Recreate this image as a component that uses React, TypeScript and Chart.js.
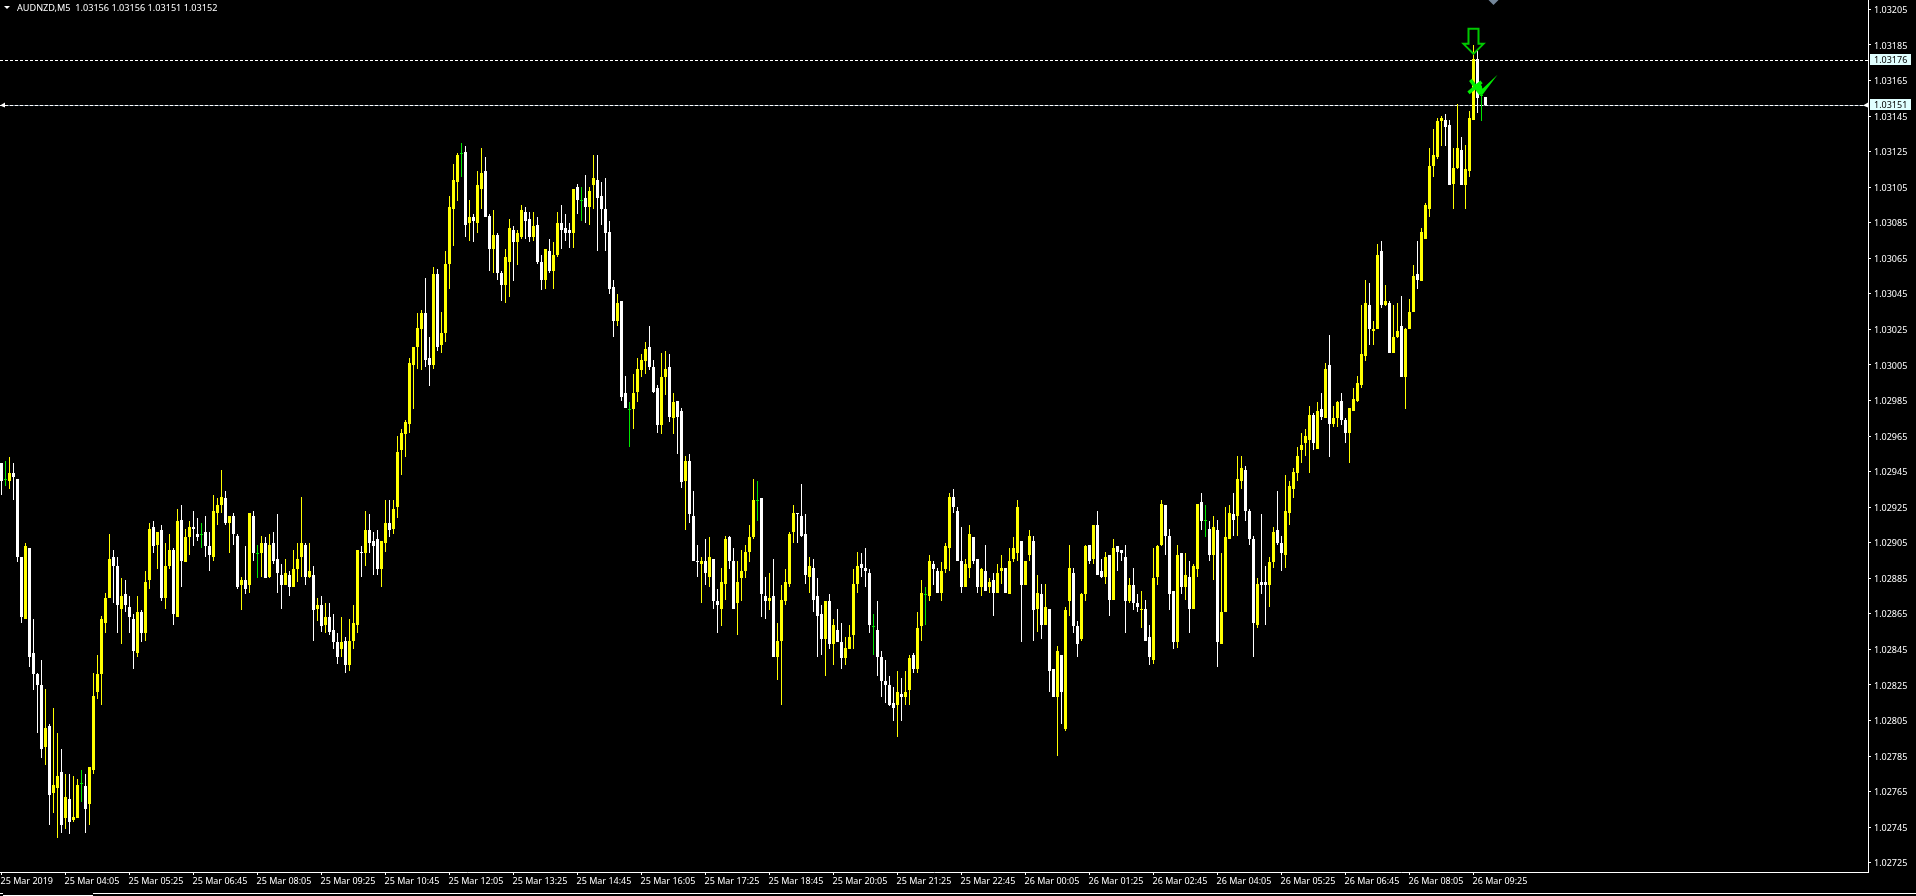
import { useEffect, useRef } from "react";
import { Chart, registerables } from "chart.js";

Chart.register(...registerables);

// AUDNZD M5 bars. Prices in points (102950 = 1.02950).
// Direction of each bar: u = up (yellow), d = down (white), f = flat (doji, green)
const barDirections = [
  "dfuddduddd", "duduududuu", "fduuuuuudd", "uddduduudu", "duududuudd", "fdduuududd", "ududfududd", "duduuududu",
  "duddduduuu", "duddduuduu", "uuuuuuddud", "uuuuufdudu", "uddudduudu", "uddudduduu", "dddudfduud", "dddduddfuu",
  "uuddduudud", "dudddududd", "uudduuuuuf", "dduduuuuud", "ddudddudud", "duuuudddfd", "dddduduudu", "ufudduuudd",
  "duuddududu", "uduuuduudu", "dudduduudd", "uududdudud", "dduddudduu", "udddududuu", "dfduduuudu", "udddudduud",
  "duuuuuuudu", "duduudduuu", "uuduududuu", "duuuduuuuu", "udduuduuud", "fd",
].join("");

const bodyTops = [
  102950,102941,102944,102944,102941,102897,102903,102902,102843,102831,
  102825,102801,102802,102769,102774,102776,102762,102761,102751,102769,
  102770,102768,102779,102819,102831,102862,102874,102896,102897,102892,
  102875,102876,102869,102862,102866,102866,102883,102913,102914,102911,
  102912,102892,102901,102901,102917,102918,102908,102914,102914,102910,
  102910,102911,102903,102923,102926,102931,102930,102920,102920,102909,
  102884,102884,102922,102920,102899,102905,102905,102904,102905,102896,
  102887,102888,102887,102890,102896,102905,102904,102889,102887,102870,
  102870,102863,102863,102856,102849,102849,102850,102850,102860,102901,
  102900,102912,102912,102906,102907,102906,102916,102916,102924,102956,
  102967,102973,103006,103015,103026,103034,103034,103009,103056,103056,
  103023,103062,103094,103109,103123,103124,103125,103088,103088,103106,
  103113,103114,103089,103078,103078,103057,103066,103082,103081,103079,
  103092,103091,103087,103083,103084,103063,103070,103069,103067,103085,
  103085,103082,103081,103104,103105,103098,103099,103103,103110,103109,
  103100,103093,103080,103049,103040,103041,102989,102980,102989,103003,
  103008,103014,103015,103004,102992,102998,103003,103004,102984,102985,
  102979,102951,102951,102920,102895,102895,102895,102897,102896,102872,
  102883,102907,102908,102895,102883,102889,102900,102908,102929,102929,
  102930,102875,102874,102875,102850,102873,102883,102910,102922,102922,
  102920,102910,102892,102891,102875,102865,102872,102872,102859,102856,
  102849,102846,102852,102882,102892,102893,102891,102888,102858,102856,
  102841,102827,102825,102815,102821,102820,102821,102840,102842,102857,
  102877,102876,102895,102893,102889,102889,102903,102931,102931,102923,
  102895,102893,102910,102908,102896,102890,102889,102883,102884,102888,
  102891,102891,102895,102902,102925,102906,102895,102909,102906,102877,
  102876,102869,102868,102834,102844,102842,102867,102891,102888,102858,
  102876,102903,102904,102915,102915,102889,102897,102898,102902,102903,
  102901,102897,102881,102881,102871,102868,102868,102852,102885,102903,
  102927,102926,102909,102878,102898,102899,102887,102886,102892,102927,
  102928,102918,102913,102914,102912,102866,102908,102922,102921,102941,
  102947,102946,102923,102907,102882,102883,102883,102894,102911,102912,
  102905,102923,102937,102945,102954,102960,102965,102977,102977,102979,
  102980,103003,103005,102975,102984,102985,102974,102981,102986,102995,
  103011,103040,103039,103025,103067,103069,103041,103040,103021,103024,
  103027,103025,103035,103055,103056,103080,103095,103117,103123,103142,
  103144,103143,103140,103116,103127,103126,103115,103144,103177,103177,
  103157,103156,
];

const bodyBottoms = [
  102940,102941,102940,102942,102897,102863,102862,102841,102831,102825,
  102789,102790,102763,102764,102767,102746,102750,102748,102749,102750,
  102770,102755,102758,102777,102821,102831,102860,102874,102892,102870,
  102868,102870,102863,102844,102843,102854,102854,102884,102903,102904,
  102874,102874,102892,102865,102863,102895,102894,102908,102913,102908,
  102910,102903,102898,102897,102922,102926,102916,102916,102910,102880,
  102881,102879,102881,102899,102899,102899,102885,102886,102895,102888,
  102881,102881,102880,102880,102890,102897,102886,102886,102867,102868,
  102858,102859,102855,102849,102841,102845,102836,102836,102850,102859,
  102899,102899,102905,102903,102890,102890,102905,102912,102913,102925,
  102957,102966,102972,103005,103015,103025,103008,103005,103005,103015,
  103016,103023,103062,103093,103108,103124,103084,103085,103086,103085,
  103104,103088,103070,103070,103057,103050,103050,103063,103074,103074,
  103077,103086,103077,103077,103063,103053,103053,103058,103058,103067,
  103081,103079,103079,103079,103098,103098,103094,103094,103106,103099,
  103093,103079,103048,103030,103030,102987,102981,102980,102980,102990,
  103002,103007,103004,102990,102971,102971,102998,102976,102975,102976,
  102939,102940,102921,102895,102894,102893,102888,102886,102872,102870,
  102868,102882,102895,102868,102871,102885,102889,102900,102908,102929,
  102876,102872,102872,102841,102841,102850,102872,102882,102911,102921,
  102909,102887,102886,102873,102864,102851,102851,102848,102848,102849,
  102840,102840,102845,102853,102882,102891,102889,102859,102858,102841,
  102827,102825,102814,102812,102814,102818,102818,102822,102834,102834,
  102858,102876,102875,102890,102877,102877,102890,102902,102925,102895,
  102880,102880,102891,102895,102880,102880,102878,102880,102877,102877,
  102889,102877,102876,102896,102899,102881,102881,102898,102867,102868,
  102859,102859,102833,102818,102818,102821,102800,102872,102858,102848,
  102851,102876,102895,102896,102887,102886,102886,102873,102873,102900,
  102899,102872,102872,102871,102869,102867,102850,102841,102839,102886,
  102904,102909,102876,102849,102849,102880,102880,102868,102868,102890,
  102917,102918,102898,102898,102849,102848,102866,102907,102918,102920,
  102940,102923,102907,102860,102859,102881,102881,102881,102894,102905,
  102899,102898,102922,102935,102944,102957,102961,102963,102961,102958,
  102976,102975,102972,102972,102975,102974,102967,102967,102979,102985,
  102994,103010,103025,103024,103025,103039,103039,103012,103012,103021,
  102998,102998,103025,103035,103053,103052,103076,103093,103117,103122,
  103142,103139,103106,103107,103116,103106,103106,103114,103143,103155,
  103157,103151,
];

const highs = [
  102950,102951,102953,102950,102941,102897,102905,102902,102862,102832,
  102839,102823,102803,102812,102798,102789,102775,102775,102774,102772,
  102777,102775,102779,102832,102842,102864,102877,102910,102901,102897,
  102885,102884,102875,102865,102875,102867,102889,102916,102917,102911,
  102915,102905,102910,102902,102924,102926,102913,102917,102923,102919,
  102916,102920,102911,102932,102930,102946,102934,102920,102922,102910,
  102886,102903,102922,102923,102904,102909,102908,102910,102911,102921,
  102893,102896,102889,102901,102905,102931,102905,102905,102892,102874,
  102875,102871,102871,102865,102854,102863,102852,102862,102870,102901,
  102903,102923,102921,102911,102912,102906,102929,102929,102929,102965,
  102969,102974,103009,103015,103034,103036,103054,103021,103060,103059,
  103035,103069,103100,103118,103124,103130,103128,103098,103090,103114,
  103127,103122,103090,103092,103079,103058,103070,103087,103083,103081,
  103095,103094,103091,103091,103088,103067,103070,103076,103074,103091,
  103095,103090,103085,103104,103107,103105,103112,103105,103123,103123,
  103108,103110,103086,103053,103045,103041,102999,102984,103000,103009,
  103011,103018,103027,103008,102994,103012,103013,103011,102989,102985,
  102981,102954,102955,102934,102904,102897,102907,102908,102896,102879,
  102891,102909,102909,102902,102895,102901,102904,102915,102941,102940,
  102930,102886,102888,102896,102860,102881,102890,102911,102926,102922,
  102938,102921,102897,102896,102885,102870,102872,102876,102862,102868,
  102860,102852,102859,102890,102900,102899,102902,102890,102865,102872,
  102844,102839,102830,102824,102833,102829,102833,102842,102843,102866,
  102884,102880,102898,102895,102891,102894,102905,102933,102935,102925,
  102914,102896,102915,102908,102896,102891,102904,102885,102888,102893,
  102898,102891,102902,102908,102929,102906,102895,102912,102909,102887,
  102882,102882,102868,102834,102847,102842,102869,102904,102891,102861,
  102877,102904,102904,102915,102923,102896,102900,102898,102907,102903,
  102901,102904,102885,102891,102876,102878,102873,102859,102902,102904,
  102929,102926,102913,102878,102904,102899,102899,102895,102893,102927,
  102933,102926,102917,102920,102918,102899,102925,102926,102933,102954,
  102954,102948,102924,102909,102885,102921,102892,102897,102914,102934,
  102909,102943,102940,102947,102959,102967,102969,102982,102978,102984,
  102989,103006,103022,102982,102985,102989,102975,102981,102992,102999,
  103039,103053,103051,103030,103073,103075,103050,103041,103039,103040,
  103044,103026,103042,103061,103075,103082,103096,103127,103138,103144,
  103145,103146,103143,103127,103152,103133,103129,103148,103185,103182,
  103162,103156,
];

const lows = [
  102932,102937,102935,102929,102894,102860,102862,102835,102822,102798,
  102784,102780,102746,102753,102739,102742,102744,102741,102748,102750,
  102759,102742,102746,102775,102817,102814,102854,102874,102871,102854,
  102848,102866,102854,102834,102841,102849,102850,102879,102899,102890,
  102872,102868,102890,102859,102863,102880,102894,102898,102903,102906,
  102902,102897,102889,102895,102915,102922,102915,102899,102904,102879,
  102867,102876,102877,102895,102885,102886,102885,102885,102893,102877,
  102868,102881,102875,102880,102883,102886,102881,102885,102850,102861,
  102855,102854,102853,102845,102837,102841,102832,102833,102845,102854,
  102886,102892,102899,102887,102887,102880,102900,102908,102910,102919,
  102943,102953,102967,102980,103003,103002,103004,102993,103003,103013,
  103012,103018,103048,103072,103097,103111,103077,103075,103074,103079,
  103093,103088,103058,103057,103053,103041,103040,103043,103052,103061,
  103076,103076,103074,103075,103062,103047,103048,103057,103048,103066,
  103070,103075,103071,103071,103090,103086,103085,103084,103093,103069,
  103084,103069,103045,103021,103027,102985,102981,102959,102969,102984,
  102998,103000,103002,102989,102967,102966,102988,102973,102966,102955,
  102936,102912,102916,102895,102886,102871,102881,102880,102868,102854,
  102858,102873,102890,102868,102853,102872,102885,102894,102907,102917,
  102863,102862,102867,102841,102828,102814,102870,102880,102905,102905,
  102908,102882,102877,102866,102841,102842,102830,102845,102836,102849,
  102834,102836,102845,102845,102877,102886,102880,102854,102842,102830,
  102818,102815,102813,102805,102796,102805,102814,102814,102832,102832,
  102850,102859,102872,102881,102877,102872,102888,102889,102922,102895,
  102877,102880,102885,102893,102877,102875,102878,102877,102864,102877,
  102882,102877,102876,102894,102895,102849,102881,102895,102850,102855,
  102851,102859,102821,102818,102785,102803,102799,102864,102854,102841,
  102850,102872,102893,102893,102887,102885,102882,102864,102873,102889,
  102895,102854,102871,102867,102866,102857,102850,102836,102837,102881,
  102903,102898,102867,102845,102846,102876,102873,102854,102868,102886,
  102912,102908,102895,102884,102835,102848,102866,102907,102909,102909,
  102935,102917,102904,102841,102857,102876,102859,102869,102891,102904,
  102889,102891,102915,102930,102940,102950,102954,102944,102957,102958,
  102974,102975,102953,102970,102970,102971,102961,102950,102979,102984,
  102992,103007,103016,103016,103025,103037,103038,103012,103012,103020,
  102998,102980,103025,103035,103048,103052,103076,103088,103111,103121,
  103128,103128,103106,103093,103115,103106,103093,103111,103143,103147,
  103142,103151,
];

const timeTickLabels = [
  "25 Mar 2019", "25 Mar 04:05", "25 Mar 05:25", "25 Mar 06:45", "25 Mar 08:05", "25 Mar 09:25",
  "25 Mar 10:45", "25 Mar 12:05", "25 Mar 13:25", "25 Mar 14:45", "25 Mar 16:05", "25 Mar 17:25",
  "25 Mar 18:45", "25 Mar 20:05", "25 Mar 21:25", "25 Mar 22:45", "26 Mar 00:05", "26 Mar 01:25",
  "26 Mar 02:45", "26 Mar 04:05", "26 Mar 05:25", "26 Mar 06:45", "26 Mar 08:05", "26 Mar 09:25",
];
const barsPerTimeTick = 16;

const priceTicks = [
  103205, 103185, 103165, 103145, 103125, 103105, 103085, 103065, 103045, 103025, 103005, 102985, 102965,
  102945, 102925, 102905, 102885, 102865, 102845, 102825, 102805, 102785, 102765, 102745, 102725,
];

const stopPrice = 103176;
const bidPrice = 103151;
const titleText = "AUDNZD,M5  1.03156 1.03156 1.03151 1.03152";

const UP = "#ffff00";
const DOWN = "#ffffff";
const FLAT = "#00e600";
const FONT = "Noto Sans";

const toPrice = (points: number) => points / 100000;
const barColor = (i: number) => (barDirections[i] === "u" ? UP : barDirections[i] === "d" ? DOWN : FLAT);

const snapBars = {
  id: "snapBars",
  beforeDatasetsDraw(chart: any) {
    chart.getSortedVisibleDatasetMetas().forEach((meta: any) => {
      if (meta.type !== "bar") return;
      meta.data.forEach((el: any) => {
        el.y = Math.round(el.y);
        el.base = Math.round(el.base);
        if (el.y === el.base) el.base = el.y + 1;
      });
    });
    const { ctx, scales, chartArea } = chart;
    ctx.save();
    ctx.lineWidth = 1;
    const hline = (points: number, color: string, dash: number[]) => {
      const y = Math.floor(scales.y.getPixelForValue(toPrice(points))) + 0.5;
      ctx.strokeStyle = color;
      ctx.setLineDash(dash);
      ctx.beginPath();
      ctx.moveTo(chartArea.left, y);
      ctx.lineTo(chartArea.right, y);
      ctx.stroke();
    };
    hline(bidPrice, "#708090", []);
    hline(bidPrice, "#ffffff", [3, 2]);
    hline(stopPrice, "#ffffff", [3, 2]);
    ctx.restore();
  },
};

const overlay = {
  id: "overlay",
  afterDraw(chart: any) {
    const { ctx, scales } = chart;
    const X = (i: number) => scales.x.getPixelForValue(i);
    const Y = (p: number) => scales.y.getPixelForValue(toPrice(p));
    ctx.save();
    // title
    ctx.fillStyle = "#ffffff";
    ctx.beginPath();
    ctx.moveTo(4, 6);
    ctx.lineTo(10, 6);
    ctx.lineTo(7, 9);
    ctx.closePath();
    ctx.fill();
    ctx.font = `9.15px "${FONT}"`;
    ctx.textBaseline = "middle";
    ctx.textAlign = "left";
    ctx.fillText(titleText, 17, 8);
    // top grey marker
    ctx.fillStyle = "#74879a";
    ctx.beginPath();
    ctx.moveTo(1488.5, 0);
    ctx.lineTo(1498.5, 0);
    ctx.lineTo(1493.5, 5);
    ctx.closePath();
    ctx.fill();
    // price labels
    ctx.font = `9px "${FONT}"`;
    [stopPrice, bidPrice].forEach((p) => {
      const y = Math.floor(Y(p));
      ctx.fillStyle = "#e0ffff";
      ctx.fillRect(1870, y - 6, 41, 11);
      ctx.fillStyle = "#000000";
      ctx.fillText(toPrice(p).toFixed(5), 1874, y);
    });
    // bid arrows
    const by = Math.floor(Y(bidPrice)) + 0.5;
    ctx.fillStyle = "#ffffff";
    [[1863, 1868], [0, 5]].forEach(([a, b]) => {
      ctx.beginPath();
      ctx.moveTo(a, by);
      ctx.lineTo(b, by - 3);
      ctx.lineTo(b, by + 2);
      ctx.closePath();
      ctx.fill();
    });
    // down arrow on the signal bar
    const ax = X(368);
    const ay = Y(103180);
    ctx.strokeStyle = "#00c800";
    ctx.lineWidth = 2;
    ctx.lineJoin = "miter";
    ctx.beginPath();
    ctx.moveTo(ax, ay);
    ctx.lineTo(ax + 10, ay - 10);
    ctx.lineTo(ax + 5, ay - 10);
    ctx.lineTo(ax + 5, ay - 25);
    ctx.lineTo(ax - 5, ay - 25);
    ctx.lineTo(ax - 5, ay - 10);
    ctx.lineTo(ax - 10, ay - 10);
    ctx.closePath();
    ctx.stroke();
    // cross and check marks on the entry bar
    const cx = X(369);
    const cy = Y(103162);
    ctx.strokeStyle = "#00f000";
    ctx.fillStyle = "#00f000";
    ctx.lineWidth = 3.5;
    ctx.beginPath();
    ctx.moveTo(cx - 7, cy - 6);
    ctx.lineTo(cx + 3, cy + 8);
    ctx.moveTo(cx - 9, cy + 7);
    ctx.lineTo(cx + 4, cy - 4);
    ctx.stroke();
    ctx.beginPath();
    ctx.moveTo(cx - 1, cy - 2);
    ctx.lineTo(cx + 3, cy - 3);
    ctx.lineTo(cx + 5, cy + 3);
    ctx.lineTo(cx + 20, cy - 11);
    ctx.lineTo(cx + 5, cy + 9);
    ctx.lineTo(cx + 2, cy + 9);
    ctx.closePath();
    ctx.fill();
    // terminal tab strip
    ctx.fillStyle = "#ffffff";
    ctx.fillRect(93, 893, 1823, 1);
    ctx.fillRect(0, 893, 3, 1);
    ctx.fillRect(3, 895, 90, 1);
    ctx.restore();
  },
};

export default function App() {
  const ref = useRef<HTMLCanvasElement>(null);
  useEffect(() => {
    const n = barDirections.length;
    const idx = Array.from({ length: n }, (_, i) => i);
    const colors = idx.map(barColor);
    const timeTicks = timeTickLabels.map((_, i) => i * barsPerTimeTick);
    const chart = new Chart(ref.current as HTMLCanvasElement, {
      type: "bar",
      data: {
        datasets: [
          {
            label: "body",
            data: idx.map((i) => ({ x: i, y: [toPrice(bodyBottoms[i]), toPrice(bodyTops[i])] })),
            backgroundColor: colors,
            barThickness: 3,
            grouped: false,
            borderWidth: 0,
            inflateAmount: 0,
            order: 1,
          } as any,
          {
            label: "wick",
            data: idx.map((i) => ({ x: i, y: [toPrice(lows[i]), toPrice(highs[i])] })),
            backgroundColor: colors,
            barThickness: 1,
            grouped: false,
            borderWidth: 0,
            inflateAmount: 0,
            order: 2,
          } as any,
        ],
      },
      options: {
        responsive: false,
        animation: false,
        events: [],
        layout: { padding: 0 },
        plugins: { legend: { display: false }, tooltip: { enabled: false } },
        scales: {
          x: {
            type: "linear",
            min: -0.375,
            max: 466.625,
            offset: false,
            grid: { display: true, offset: false, drawOnChartArea: false, drawTicks: true, tickLength: 3, tickColor: "#ffffff" },
            border: { display: true, color: "#ffffff", width: 1 },
            afterBuildTicks: (s: any) => {
              s.ticks = timeTicks.map((value) => ({ value }));
            },
            afterFit: (s: any) => {
              s.height = 24;
              s.paddingLeft = 0;
              s.paddingRight = 0;
            },
            ticks: {
              autoSkip: false,
              maxRotation: 0,
              minRotation: 0,
              align: "start",
              labelOffset: -1,
              padding: 1,
              color: "#ffffff",
              font: { family: FONT, size: 9 },
              callback: (v: any) => timeTickLabels[Math.round(v / barsPerTimeTick)],
            },
          },
          y: {
            position: "right",
            min: 1.027198,
            max: 1.032103,
            grid: { display: true, drawOnChartArea: false, drawTicks: true, tickLength: 3, tickColor: "#ffffff" },
            border: { display: true, color: "#ffffff", width: 1 },
            afterBuildTicks: (s: any) => {
              s.ticks = priceTicks.map((p) => ({ value: toPrice(p) }));
            },
            afterFit: (s: any) => {
              s.width = 48;
              s.paddingTop = 0;
              s.paddingBottom = 0;
            },
            ticks: {
              autoSkip: false,
              padding: 3,
              labelOffset: 1,
              color: "#ffffff",
              font: { family: FONT, size: 9 },
              callback: (v: any) => Number(v).toFixed(5),
            },
          },
        },
      },
      plugins: [snapBars, overlay],
    } as any);
    return () => chart.destroy();
  }, []);
  return (
    <div style={{ position: "fixed", left: 0, top: 0, width: 1916, height: 896, background: "#000", overflow: "hidden" }}>
      <canvas ref={ref} width={1916} height={896} style={{ display: "block", width: 1916, height: 896 }} />
    </div>
  );
}
